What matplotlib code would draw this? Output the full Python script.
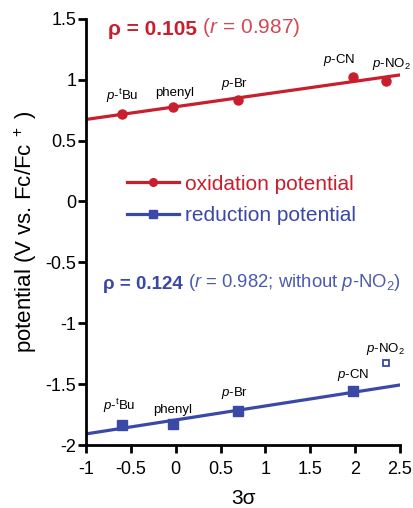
import numpy as np
from matplotlib import pyplot as plt
from matplotlib.lines import Line2D

plt.rcParams['font.family'] = ['Liberation Sans', 'DejaVu Sans']
plt.rcParams['mathtext.fontset'] = 'custom'
plt.rcParams['mathtext.rm'] = 'Liberation Sans'
plt.rcParams['mathtext.it'] = 'Liberation Sans:italic'
plt.rcParams['mathtext.bf'] = 'Liberation Sans:bold'
plt.rcParams['axes.unicode_minus'] = False

# substituent constants (3 sigma) and potentials (V vs Fc/Fc+)
sigma3 = [-0.60, -0.03, 0.69, 1.98, 2.34]
e_ox = [0.720, 0.774, 0.834, 1.026, 0.993]
e_red = [-1.836, -1.828, -1.721, -1.557, -1.324]
names = [r'$p$-$^{\mathrm{t}}$Bu', 'phenyl', r'$p$-Br', r'$p$-CN', r'$p$-NO$_2$']
xticks = [-1, -0.5, 0, 0.5, 1, 1.5, 2, 2.5]
yticks = [-2, -1.5, -1, -0.5, 0, 0.5, 1, 1.5]

red = '#c81e2d'
blue = '#3a48a6'

fig = plt.figure(figsize=(4.14, 5.08), dpi=100)
ax = fig.add_axes([0.208, 0.124, 0.758, 0.839])

xs = np.array([-1, 2.5])
# oxidation: fit over all five, reduction: fit without p-NO2
k_ox = np.polyfit(sigma3, e_ox, 1)
k_red = np.polyfit(sigma3[:4], e_red[:4], 1)
ax.plot(xs, np.polyval(k_ox, xs), color=red, lw=2.3, zorder=2)
ax.plot(xs, np.polyval(k_red, xs), color=blue, lw=2.3, zorder=2)
ax.plot(sigma3, e_ox, 'o', color=red, ms=6.5, zorder=3)
ax.plot(sigma3[:4], e_red[:4], 's', color=blue, ms=7, zorder=3)
ax.plot(sigma3[4:], e_red[4:], 's', mfc='white', mec=blue, mew=1.3, ms=4.8, zorder=3)

# label offsets (points) for each substituent
ox_off = [(0, 6), (1, 6), (-2, 6), (-10, 6), (4, 6)]
red_off = [(-2, 7), (0, 6), (-2, 7), (0, 6), (0, 4)]
for x, y, n, o in zip(sigma3, e_ox, names, ox_off):
    ax.annotate(n, (x, y), xytext=o, textcoords='offset points',
                ha='center', va='bottom', fontsize=9.5)
for x, y, n, o in zip(sigma3, e_red, names, red_off):
    ax.annotate(n, (x, y), xytext=o, textcoords='offset points',
                ha='center', va='bottom', fontsize=9.5)

t1 = ax.text(-0.76, 1.37, 'ρ = 0.105', color=red, fontsize=15, weight='bold')
ax.annotate(' ($r$ = 0.987)', xy=(1, 0), xycoords=t1, va='bottom',
            color='#d04a55', fontsize=15)
t2 = ax.text(-0.81, -0.72, 'ρ = 0.124', color=blue, fontsize=13.5, weight='bold')
ax.annotate(' ($r$ = 0.982; without $p$-NO$_2$)', xy=(1, 0), xycoords=t2,
            va='bottom', color='#4b5ab0', fontsize=13.3)

handles = [Line2D([], [], color=red, lw=2.3, marker='o', ms=5.5),
           Line2D([], [], color=blue, lw=2.3, marker='s', ms=6)]
ax.legend(handles, ['oxidation potential', 'reduction potential'],
          loc='center left', bbox_to_anchor=(0.13, 0.575), frameon=False,
          fontsize=15, handlelength=2.5, handletextpad=0.3,
          labelspacing=0.6, borderpad=0, borderaxespad=0,
          labelcolor='linecolor')

ax.set_xlim(-1, 2.5)
ax.set_ylim(-2, 1.5)
ax.set_xticks(xticks)
ax.set_xticklabels(['{:g}'.format(v) for v in xticks])
ax.set_yticks(yticks)
ax.set_yticklabels(['{:g}'.format(v) for v in yticks])
ax.tick_params(width=2, length=5.5, labelsize=13)
ax.tick_params(axis='x', pad=6)
ax.tick_params(axis='y', pad=1.5)
for s in ['top', 'right']:
    ax.spines[s].set_visible(False)
for s in ['left', 'bottom']:
    ax.spines[s].set_linewidth(2)

ax.set_xlabel('3σ', fontsize=15, labelpad=8)
ax.set_ylabel(r'potential (V vs. Fc/Fc$^{\ +}$ )', fontsize=16)
ax.yaxis.set_label_coords(-0.15, 0.5)

plt.savefig('out.png', dpi=100)
